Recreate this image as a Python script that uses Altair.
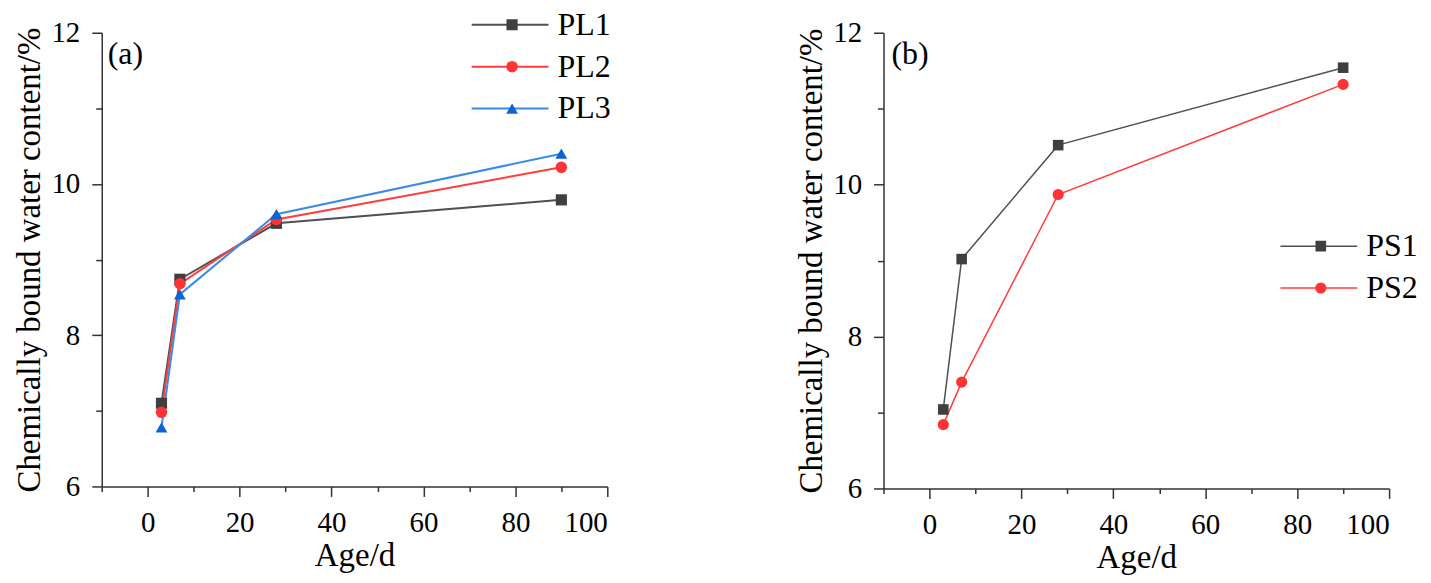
import altair as alt
import pandas as pd

FONT = "Liberation Serif"

# ---- data ----
age = [3, 7, 28, 90]

pl_names = ["PL1", "PL2", "PL3"]
pl1 = [7.10, 8.74, 9.48, 9.79]
pl2 = [6.98, 8.68, 9.53, 10.22]
pl3 = [6.78, 8.54, 9.60, 10.40]

ps_names = ["PS1", "PS2"]
ps1 = [7.04, 9.02, 10.52, 11.54]
ps2 = [6.84, 7.40, 9.87, 11.32]

panel_labels = ["(a)", "(b)"]

x_ticks = list(range(-10, 101, 10))
y_ticks = [6, 7, 8, 9, 10, 11, 12]

line_colors = ["#505050", "#ff3d3d", "#3a8ae8"]
marker_colors = ["#3f3f3f", "#ff3333", "#0a64d6"]
shapes = ["square", "circle", "triangle-up"]
marker_sizes = [125, 140, 230]


def make_df(names, series):
    rows = []
    for n, vals in zip(names, series):
        for a, v in zip(age, vals):
            rows.append({"age": a, "value": v, "series": n})
    return pd.DataFrame(rows)


x_axis = alt.Axis(
    values=x_ticks,
    labelExpr="datum.value >= 0 && datum.value % 20 == 0 ? datum.label : ''",
    tickSize={"condition": {"test": "datum.value % 20 == 0", "value": 10}, "value": 5},
    title="Age/d",
    grid=False,
    labelPadding=12,
    titlePadding=2,
    labelFont=FONT, titleFont=FONT,
)
y_axis = alt.Axis(
    values=y_ticks,
    labelExpr="datum.value % 2 == 0 ? datum.label : ''",
    tickSize={"condition": {"test": "datum.value % 2 == 0", "value": 10}, "value": 6},
    title="Chemically bound water content/%",
    grid=False,
    labelPadding=12,
    titlePadding=4,
    labelFont=FONT, titleFont=FONT,
)

X = alt.X("age:Q", scale=alt.Scale(domain=[-10, 100], nice=False, zero=False), axis=x_axis)
Y = alt.Y("value:Q", scale=alt.Scale(domain=[6, 12], nice=False, zero=False), axis=y_axis)


def panel(names, series, label, lx, ly, sw, mscale, dx, h):
    df = make_df(names, series)
    n = len(names)
    line_legend = alt.Legend(
        orient="none", legendX=lx, legendY=ly, direction="vertical", title=None,
        symbolType="stroke", symbolSize=5929, symbolStrokeWidth=sw,
        clipHeight=32, rowPadding=10, padding=0,
        labelFont=FONT, labelFontSize=32, labelColor="black", labelOffset=8, labelLimit=300,
    )
    pt_legend = alt.Legend(
        orient="none", legendX=lx + 25.5, legendY=ly, direction="vertical", title=None,
        symbolSize=95 * mscale, symbolStrokeWidth=0,
        clipHeight=32, rowPadding=10, padding=0,
        labelFont=FONT, labelFontSize=32, labelExpr="''", labelOffset=8,
    )
    base = alt.Chart(df)
    line = base.mark_line(strokeWidth=sw).encode(
        x=X, y=Y,
        color=alt.Color("series:N", scale=alt.Scale(domain=names, range=line_colors[:n]), legend=line_legend),
    )
    pts = base.mark_point(filled=True, opacity=1).encode(
        x=X, y=Y,
        shape=alt.Shape("series:N", scale=alt.Scale(domain=names, range=shapes[:n]), legend=pt_legend),
        color=alt.Color("series:N", scale=alt.Scale(domain=names, range=marker_colors[:n]), legend=pt_legend),
        size=alt.Size("series:N", scale=alt.Scale(domain=names, range=[s * mscale for s in marker_sizes[:n]]), legend=None),
    )
    ann = alt.Chart(pd.DataFrame({"age": [-10], "value": [12], "t": [label]})).mark_text(
        align="left", baseline="top", dx=dx, dy=6, font=FONT, fontSize=32, color="black"
    ).encode(x=X, y=Y, text="t:N")
    return alt.layer(line, pts, ann).resolve_scale(color="independent", shape="independent", size="independent").properties(
        width=507, height=h
    )


left = panel(pl_names, [pl1, pl2, pl3], panel_labels[0], 370, -24, 2, 1.0, 6, 455)
right = panel(ps_names, [ps1, ps2], panel_labels[1], 397, 198, 1.5, 0.9, 8, 457)

chart = (
    alt.hconcat(left, right, spacing=277, bounds="flush")
    .resolve_scale(color="independent", shape="independent", size="independent")
    .properties(padding={"left": 5, "top": 0, "right": 5, "bottom": 5})
    .configure(font=FONT)
    .configure_view(stroke=None)
    .configure_axis(
        labelFont=FONT, titleFont=FONT, labelFontSize=29, titleFontSize=33,
        labelColor="black", titleColor="black", titleFontWeight="normal",
        domainColor="#333333", tickColor="#333333", domainWidth=1.5, tickWidth=1.5,
    )
)

chart.save("out.html", embed_options={"renderer": "svg", "actions": False})
